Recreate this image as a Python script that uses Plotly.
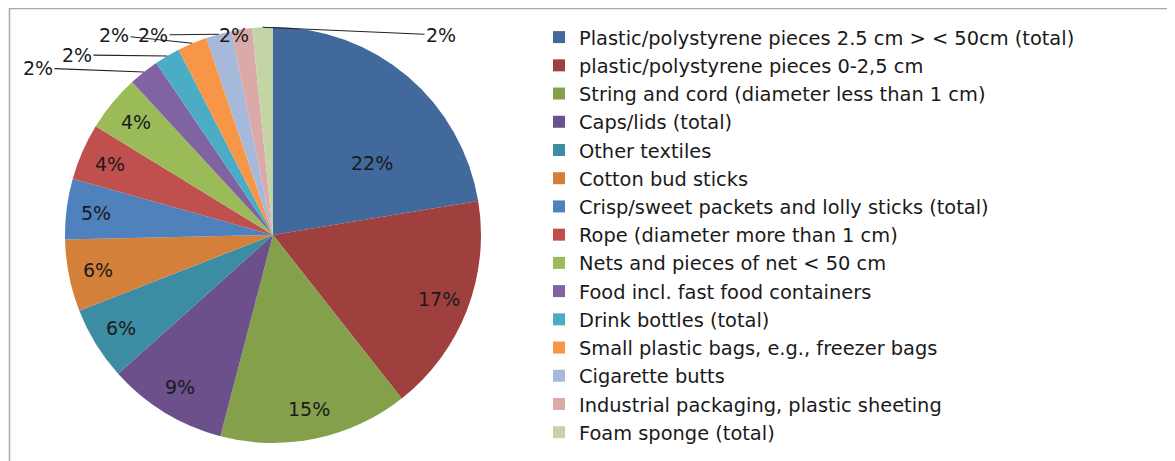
import math
import plotly.graph_objects as go

categories = [
    "Plastic/polystyrene pieces 2.5 cm > < 50cm (total)",
    "plastic/polystyrene pieces 0-2,5 cm",
    "String and cord (diameter less than 1 cm)",
    "Caps/lids (total)",
    "Other textiles",
    "Cotton bud sticks",
    "Crisp/sweet packets and lolly sticks (total)",
    "Rope (diameter more than 1 cm)",
    "Nets and pieces of net < 50 cm",
    "Food incl. fast food containers",
    "Drink bottles (total)",
    "Small plastic bags, e.g., freezer bags",
    "Cigarette butts",
    "Industrial packaging, plastic sheeting",
    "Foam sponge (total)",
]
values = [22.4, 17.0, 14.7, 9.3, 5.7, 5.6, 4.7, 4.4, 4.4, 2.35, 2.0, 2.3, 2.0, 1.6, 1.6]
colors = [
    "#41699C", "#A0403E", "#84A04A", "#6B508B", "#3C8CA3", "#D4803A",
    "#4F81BD", "#C0504D", "#9BBB59", "#8064A2", "#4BACC6", "#F79646",
    "#A7B9DA", "#DBA9A8", "#C3D5A5",
]

# ---- layout / style settings (pixels, figure coordinates) ----
W, H = 1175, 461
OFF = 8  # page body margin: screen position = figure position + OFF
cx, cy, R = 273 - OFF, 235 - OFF, 208
FONT = "DejaVu Sans"
TXT = "#1a1a1a"
# label placement inside slices: (fraction along slice angle, fraction of radius)
inside_place = {0: (0.67, 0.59)}
inside_default = (0.5, 0.856)
# outside label text centres for the small slices (screen pixels)
outside_label_xy = {9: (38, 68), 10: (77, 55), 11: (114, 35), 12: (153, 35), 13: (234, 35), 14: (441, 35)}

fig = go.Figure(go.Pie(
    labels=categories,
    values=values,
    sort=False,
    direction="clockwise",
    rotation=0,
    marker=dict(colors=colors, line=dict(width=0)),
    textinfo="none",
    hoverinfo="label+percent",
    domain=dict(x=[(cx - R) / W, (cx + R) / W], y=[(H - cy - R) / H, (H - cy + R) / H]),
))

total = sum(values)
annotations = []
cum = 0.0
for i, v in enumerate(values):
    a0 = cum / total * 360.0
    a1 = (cum + v) / total * 360.0
    cum += v
    text = f"{int(v / total * 100 + 0.5)}%"
    if i in outside_label_xy:
        ang = math.radians((a0 + a1) / 2)
        px = cx + R * math.sin(ang)
        py = cy - R * math.cos(ang)
        lx, ly = outside_label_xy[i]
        lx -= OFF
        ly -= OFF
        annotations.append(dict(
            xref="paper", yref="paper", x=px / W, y=(H - py) / H,
            ax=lx - px, ay=ly - py, text=text, showarrow=True,
            arrowhead=0, arrowwidth=1.1, arrowcolor="#222222", standoff=0,
            font=dict(family=FONT, size=19, color=TXT),
        ))
    else:
        fa, fr = inside_place.get(i, inside_default)
        ang = math.radians(a0 + fa * (a1 - a0))
        px = cx + fr * R * math.sin(ang)
        py = cy - fr * R * math.cos(ang)
        annotations.append(dict(
            xref="paper", yref="paper", x=px / W, y=(H - py) / H,
            text=text, showarrow=False, xanchor="center", yanchor="middle",
            font=dict(family=FONT, size=19, color=TXT),
        ))

fig.update_layout(
    width=W, height=H,
    margin=dict(l=0, r=0, t=0, b=0, autoexpand=False),
    paper_bgcolor="white",
    showlegend=True,
    legend=dict(
        x=(539 - OFF) / W, y=(H - (18 - OFF)) / H, xanchor="left", yanchor="top",
        font=dict(family=FONT, size=19.4, color=TXT),
        bgcolor="rgba(0,0,0,0)",
        traceorder="normal",
    ),
    annotations=annotations,
    shapes=[dict(
        type="rect", xref="paper", yref="paper",
        x0=(9.5 - OFF) / W, x1=1.05, y0=-0.05, y1=(H - (8.5 - OFF)) / H,
        line=dict(color="#A8A8A8", width=1.5),
    )],
)

fig.write_html("out.html")
